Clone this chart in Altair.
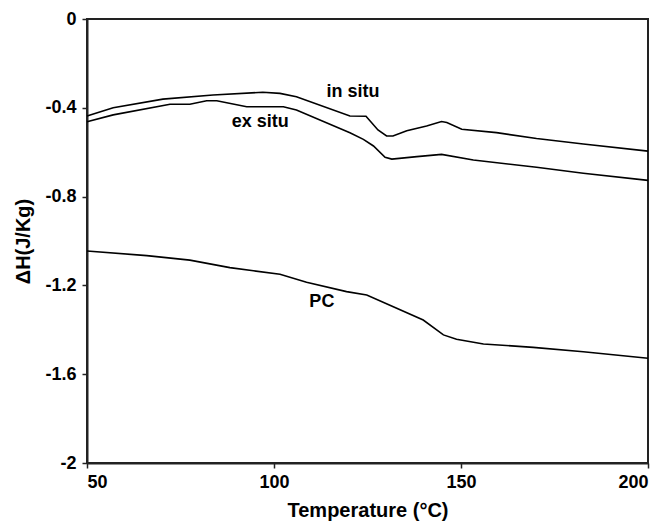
import altair as alt
import pandas as pd

# in situ curve
insitu_x = [50, 57, 70.3, 83.7, 97, 101.6, 106, 120.3, 124.6, 127.8, 130.1, 131.8, 135.5, 140.8, 144.8, 146.2, 150.2, 159.5, 170.2, 182.7, 200]
insitu_y = [-0.437, -0.40, -0.361, -0.342, -0.330, -0.335, -0.35, -0.437, -0.438, -0.50, -0.527, -0.527, -0.503, -0.482, -0.462, -0.466, -0.497, -0.512, -0.538, -0.563, -0.595]

# ex situ curve
exsitu_x = [50, 57, 72.2, 77.5, 82, 84.7, 92.7, 102.5, 106, 120.3, 123.9, 126.6, 129.7, 131.5, 138.2, 144.8, 153.3, 170.2, 182.7, 200]
exsitu_y = [-0.463, -0.432, -0.384, -0.384, -0.368, -0.368, -0.395, -0.395, -0.41, -0.512, -0.542, -0.572, -0.623, -0.631, -0.62, -0.61, -0.635, -0.668, -0.695, -0.727]

# PC curve
pc_x = [50, 66, 77.5, 88.2, 94.5, 101.6, 108.7, 119.4, 124.8, 131.9, 139.9, 145.3, 148.8, 156, 169.3, 182.7, 200]
pc_y = [-1.045, -1.066, -1.086, -1.12, -1.134, -1.15, -1.186, -1.228, -1.243, -1.296, -1.356, -1.423, -1.443, -1.464, -1.479, -1.499, -1.528]

label_text = ["in situ", "ex situ", "PC"]
label_x = [121.1, 96.3, 112.8]
label_y = [-0.329, -0.464, -1.273]

x_ticks = [50, 100, 150, 200]
y_ticks = [0, -0.4, -0.8, -1.2, -1.6, -2]

rows = []
for name, xs, ys in [("in situ", insitu_x, insitu_y), ("ex situ", exsitu_x, exsitu_y), ("PC", pc_x, pc_y)]:
    for i, (a, b) in enumerate(zip(xs, ys)):
        rows.append({"series": name, "T": a, "H": b, "order": i})
df = pd.DataFrame(rows)
labels = pd.DataFrame({"text": label_text, "T": label_x, "H": label_y})

FONT = "Liberation Sans"

xscale = alt.Scale(domain=[50, 200], nice=False, zero=False)
yscale = alt.Scale(domain=[-2, 0], nice=False, zero=False)

lines = alt.Chart(df).mark_line(color="black", strokeWidth=1.6).encode(
    x=alt.X("T:Q", scale=xscale,
            axis=alt.Axis(values=x_ticks, title="Temperature (°C)", grid=False,
                          labelExpr="toString(datum.value)",
                          titleY=53, titleBaseline="alphabetic")),
    y=alt.Y("H:Q", scale=yscale,
            axis=alt.Axis(values=y_ticks, title="ΔH(J/Kg)", grid=False,
                          labelExpr="toString(datum.value)",
                          titleX=-64, titleY=222, titleAngle=-90,
                          titleAlign="center", titleBaseline="middle")),
    detail="series:N",
    order="order:Q",
)

texts = alt.Chart(labels).mark_text(
    font=FONT, fontSize=18, fontWeight="bold", color="black", baseline="middle", align="center"
).encode(
    x=alt.X("T:Q", scale=xscale),
    y=alt.Y("H:Q", scale=yscale),
    text="text:N",
)

chart = (lines + texts).properties(
    width=561, height=444,
    autosize=alt.AutoSizeParams(type="none"),
    padding={"left": 87, "top": 19, "right": 17, "bottom": 60},
).configure_view(
    stroke="#222", strokeWidth=2
).configure_axis(
    labelFont=FONT, labelFontSize=18, labelFontWeight="bold", labelColor="black",
    titleFont=FONT, titleFontSize=20, titleFontWeight="bold", titleColor="black",
    domainColor="#222", domainWidth=2, tickColor="#222", tickWidth=1.5, tickSize=5,
).configure_axisX(
    labelPadding=5
).configure_axisY(
    labelPadding=6
)

chart.save("out.html", embed_options={"renderer": "svg", "actions": False})
